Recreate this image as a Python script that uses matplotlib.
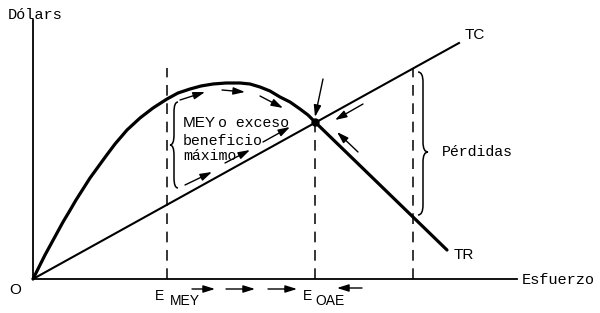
"""
Fishery bioeconomic diagram: total revenue (TR) vs total cost (TC) by effort.
Units are arbitrary (effort on x, dollars on y), origin at O.
"""

import matplotlib.pyplot as plt
from matplotlib.path import Path
from matplotlib.patches import PathPatch

MONO = 'Liberation Mono'
SANS = 'Liberation Sans'

# total revenue curve
TR_EFFORT = [0, 6, 12, 18, 24, 30, 36, 43, 50, 57, 65, 73, 82, 94, 107, 120, 134,
             145, 157, 168, 180, 193, 207, 217, 227, 237, 247, 257, 267, 275, 282, 380, 414]
TR_DOLLARS = [0, 12, 24, 35, 46, 57, 67, 79, 90, 101, 112, 123, 135, 149, 161, 171, 180,
              186, 190, 193, 195, 196, 196, 195, 192, 188, 182, 177, 170, 164, 157, 62, 29]

# total cost line
TC_EFFORT = [0, 426]
TC_DOLLARS = [0, 236]

# key effort levels
E_MEY = 134
E_OAE = 282
E_LOSS = 380
MEY_TOP = 211
OAE_TOP = 157
LOSS_TOP = 210

AXIS_X_END = 484
AXIS_Y_END = 259

# arrows (start x, start y, end x, end y)
ARROWS = [
    (147, 179, 172, 187), (189, 189, 212, 187), (227, 183, 250, 171),
    (152, 94, 179, 107), (192, 116, 217, 129), (230, 137, 257, 152),
    (290, 200, 282, 162), (330, 175, 302, 159), (325, 127, 304, 147),
    (159, -10, 182, -10), (193, -10, 222, -10), (235, -10, 264, -10),
    (329, -9, 304, -9),
]


def brace(ax, x, y0, y1, ym, e, r=10, lw=1.1):
    # e > 0: ends curl right, tip points left ("{"); e < 0 gives "}"
    verts = [(x + e, y1), (x, y1), (x, y1 - r),
             (x, ym + r),
             (x, ym), (x - e, ym),
             (x, ym), (x, ym - r),
             (x, y0 + r),
             (x, y0), (x + e, y0)]
    codes = [Path.MOVETO, Path.CURVE3, Path.CURVE3,
             Path.LINETO,
             Path.CURVE3, Path.CURVE3,
             Path.CURVE3, Path.CURVE3,
             Path.LINETO,
             Path.CURVE3, Path.CURVE3]
    ax.add_patch(PathPatch(Path(verts, codes), fill=False, lw=lw, color='k'))


fig = plt.figure(figsize=(6, 3.13), dpi=100)
ax = fig.add_axes([0, 0, 1, 1])
ax.set_xlim(-33, 567)
ax.set_ylim(-34, 279)
ax.axis('off')

# axes
ax.plot([0, AXIS_X_END], [0, 0], color='k', lw=1.3)
ax.plot([0, 0], [0, AXIS_Y_END], color='k', lw=1.3)

# curves
ax.plot(TR_EFFORT, TR_DOLLARS, color='k', lw=2.3, solid_joinstyle='round',
        solid_capstyle='round')
ax.plot(TC_EFFORT, TC_DOLLARS, color='k', lw=1.5)
ax.plot([E_OAE], [OAE_TOP], 'o', color='k', ms=5)

# dashed verticals
for xv, top in [(E_MEY, MEY_TOP), (E_OAE, OAE_TOP), (E_LOSS, LOSS_TOP)]:
    ax.plot([xv, xv], [0, top], color='k', lw=1.1, dashes=(7, 5))

for x0, y0, x1, y1 in ARROWS:
    ax.annotate('', xy=(x1, y1), xytext=(x0, y0),
                arrowprops=dict(arrowstyle='-|>,head_length=0.7,head_width=0.22',
                                color='k', lw=1.0, mutation_scale=10,
                                shrinkA=0, shrinkB=0))

brace(ax, 141, 91, 177, 134, 4)
brace(ax, 390, 64, 207, 127, -5)

# labels
ax.text(2, 264, 'Dólars', family=MONO, fontsize=11, ha='center', va='center')
ax.text(-18, -11, 'O', family=SANS, fontsize=11, ha='center', va='center')
ax.text(489, -1, 'Esfuerzo', family=MONO, fontsize=11, ha='left', va='center')
ax.text(442, 244, 'TC', family=SANS, fontsize=11, ha='center', va='center')
ax.text(431, 24, 'TR', family=SANS, fontsize=11, ha='center', va='center')
ax.text(409, 127, 'Pérdidas', family=MONO, fontsize=10.7, ha='left', va='center')

ax.text(150, 152, 'MEY', family=SANS, fontsize=11, ha='left', va='baseline')
ax.text(185, 152, 'o exceso', family=MONO, fontsize=10.7, ha='left', va='baseline')
ax.text(150, 134, 'beneficio', family=MONO, fontsize=10.7, ha='left', va='baseline')
ax.text(150, 119, 'máximo', family=MONO, fontsize=10.7, ha='left', va='baseline')

ax.text(122, -17, 'E', family=SANS, fontsize=10, ha='left', va='center')
ax.text(137, -22, 'MEY', family=SANS, fontsize=10, ha='left', va='center')
ax.text(270, -17, 'E', family=SANS, fontsize=10, ha='left', va='center')
ax.text(282, -22, 'OAE', family=SANS, fontsize=10, ha='left', va='center')

fig.savefig('out.png', dpi=100)
